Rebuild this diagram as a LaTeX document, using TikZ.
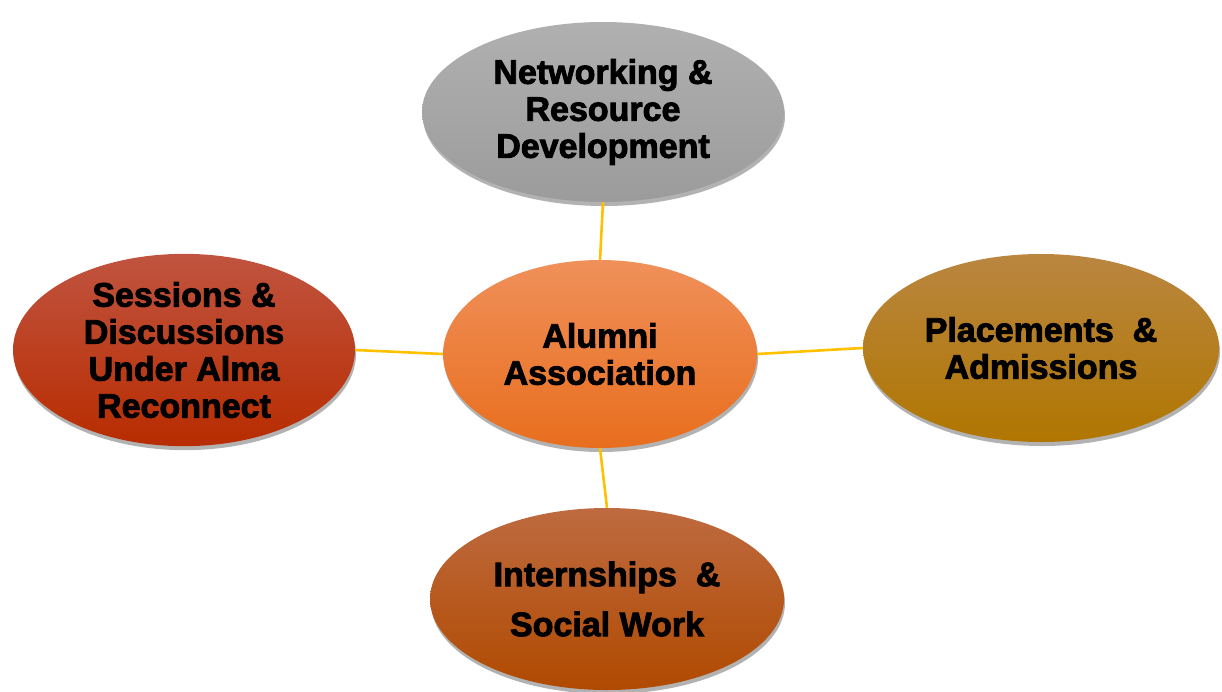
\documentclass[tikz,border=0pt]{standalone}
\usepackage{fontspec}
\newfontfamily\heavy{Liberation Sans Bold}[FakeBold=2.6]
\usetikzlibrary{shapes.geometric,shadows}
\definecolor{linegold}{HTML}{FFC000}
\begin{document}
\begin{tikzpicture}[x=1pt,y=-1pt,
  bubble/.style={ellipse, inner sep=0pt, align=center,
    font=\heavy\fontsize{34}{37}\selectfont, text=black,
    drop shadow={shadow xshift=1pt, shadow yshift=-4pt, opacity=0.3, fill=black}},
  link/.style={draw=linegold, line width=2.6pt}]
\useasboundingbox (0,0) rectangle (1222,691);
\node[bubble, minimum width=362pt, minimum height=180pt, top color=gray!62, bottom color=gray!78] (net) at (603,112) {Networking \&\\Resource\\Development};
\node[bubble, minimum width=314pt, minimum height=188pt, top color={rgb,255:red,240;green,144;blue,90}, bottom color={rgb,255:red,232;green,110;blue,30}] (alu) at (600,354) {Alumni\\Association};
\node[bubble, minimum width=342pt, minimum height=186pt, top color={rgb,255:red,192;green,84;blue,64}, bottom color={rgb,255:red,184;green,44;blue,0}] (ses) at (184,350) {Sessions \&\\Discussions\\Under Alma\\Reconnect};
\node[bubble, minimum width=356pt, minimum height=188pt, top color={rgb,255:red,186;green,134;blue,64}, bottom color={rgb,255:red,176;green,118;blue,0}] (pla) at (1041,348) {Placements \ \&\\Admissions};
\node[bubble, minimum width=354pt, minimum height=182pt, top color={rgb,255:red,190;green,106;blue,64}, bottom color={rgb,255:red,176;green,74;blue,0}] (int) at (607,599) {Internships \ \&\\[13pt]Social Work};
\draw[link] (net.south) -- (alu.north);
\draw[link] (alu.south) -- (int.north);
\draw[link] (ses.east) -- (alu.west);
\draw[link] (alu.east) -- (pla.west);
\end{tikzpicture}
\end{document}
